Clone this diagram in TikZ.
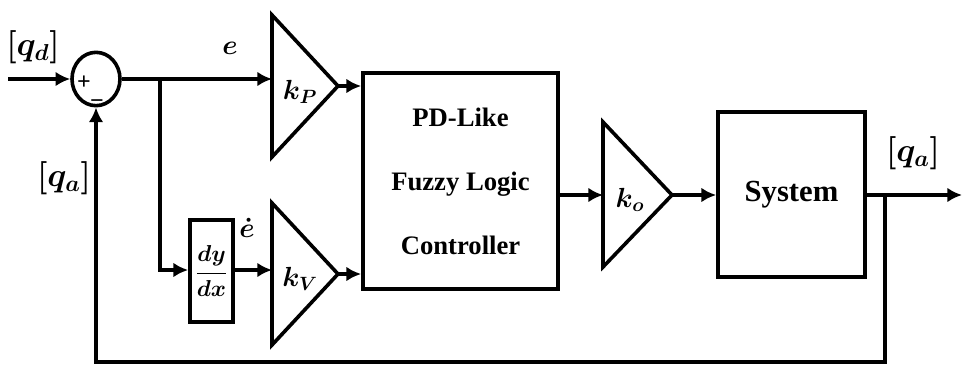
\documentclass[tikz,border=0pt]{standalone}
\usepackage{fontspec}
\setmainfont{Liberation Serif}
\usetikzlibrary{arrows.meta,positioning,shapes.geometric}

\tikzset{
  sig/.style={line width=2.7pt,-{Latex[length=11pt,width=11pt]}},
  blk/.style={draw,line width=3.1pt,inner sep=0pt},
  gain/.style={line width=2.7pt,line join=miter},
  lbl/.style={inner sep=0pt,font=\fontsize{24}{28}\selectfont\boldmath},
  glbl/.style={inner sep=0pt,font=\fontsize{22}{26}\selectfont\boldmath},
  sgn/.style={inner sep=0pt,font=\fontsize{18}{18}\selectfont\bfseries}
}

\begin{document}
\begin{tikzpicture}[x=0.75pt,y=0.75pt,yscale=-1,xscale=1]
	\useasboundingbox (0,0) rectangle (963,368);

	%Shape: Summing junction
	\node (sum) [ellipse,draw,line width=2.7pt,minimum width=36pt,minimum height=40pt,inner sep=0pt] at (96,79) {};
	\node (plus) [sgn,anchor=base] at (84,89) {+};
	\node (minus) [sgn,anchor=base] at (97,108) {\textminus};

	%Shape: Triangle kp
	\coordinate (kpin) at (272,79);
	\coordinate (kpout) at (338,86);
	\draw [gain] (272,15) -- (kpout) -- (272,157) -- cycle;
	\node (kp) [glbl] at (300,92) {$k_P$};

	%Shape: Triangle kv
	\coordinate (kvin) at (272,270);
	\coordinate (kvout) at (338,274);
	\draw [gain] (272,203) -- (kvout) -- (272,345) -- cycle;
	\node (kv) [glbl] at (300,279) {$k_V$};

	%Shape: Triangle ko
	\coordinate (koin) at (603,195);
	\coordinate (koout) at (672,195);
	\draw [gain] (603,122) -- (koout) -- (603,267) -- cycle;
	\node (ko) [glbl] at (630,200) {$k_o$};

	%Shape: Rectangles
	\node (deriv) [blk,minimum width=32pt,minimum height=76pt,font=\fontsize{19}{22}\selectfont\boldmath] at (211.5,271) {$\displaystyle\frac{dy}{dx}$};
	\node (flc) [blk,minimum width=146pt,minimum height=162pt,align=center,font=\fontsize{20}{48}\selectfont\bfseries] at (460.5,181) {PD-Like\\Fuzzy Logic\\Controller};
	\node (sys) [blk,minimum width=110pt,minimum height=124pt,font=\fontsize{23}{26}\selectfont\bfseries] at (791.5,194.5) {System};

	%Straight Lines
	\coordinate (in) at (8,79);
	\coordinate (split) at (160,79);
	\coordinate (bend) at (160,270);
	\coordinate (tap) at (885,195);
	\coordinate (out) at (962,195);
	\coordinate (fbr) at (885,362);
	\coordinate (fbl) at (96,362);
	\draw [sig] (in) -- (sum.west);
	\draw [sig] (sum.east) -- (kpin);
	\draw [sig] (split) -- (bend) -- (deriv.west |- bend);
	\draw [sig] (deriv.east |- kvin) -- (kvin);
	\draw [sig] (kpout) -- (flc.west |- kpout);
	\draw [sig] (kvout) -- (flc.west |- kvout);
	\draw [sig] (flc.east |- koin) -- (koin);
	\draw [sig] (koout) -- (sys.west |- koout);
	\draw [sig] (sys.east |- tap) -- (out);
	\draw [sig] (tap) -- (fbr) -- (fbl) -- (sum.south);

	% Text Node
	\node (qd) [lbl] at (33,47) {$[q_d]$};
	% Text Node
	\node (qa1) [lbl] at (64,178) {$[q_a]$};
	% Text Node
	\node (qa2) [lbl] at (913,153) {$[q_a]$};
	% Text Node
	\node (e) [glbl] at (230,48) {$e$};
	% Text Node
	\node (edot) [glbl] at (247,228) {$\dot{e}$};
\end{tikzpicture}
\end{document}
